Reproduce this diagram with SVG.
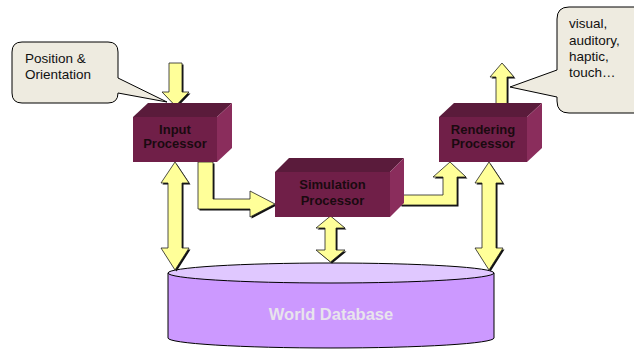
<svg xmlns="http://www.w3.org/2000/svg" width="634" height="349" viewBox="0 0 634 349">
<style>
.front{fill:#701f48}
.top{fill:#5a1b3b}
.side{fill:#8a2d5c}
.lbl{font-family:"Liberation Sans",Arial,sans-serif;font-weight:bold;font-size:13px;fill:#1a0a10;text-anchor:middle}
.call{fill:#eeebe0;stroke:#000;stroke-width:1}
.ctext{font-family:"Liberation Sans",Arial,sans-serif;font-size:13.5px;fill:#111}
.arr{fill:#ffff99;stroke:#222;stroke-width:0.8;stroke-linejoin:miter}
.sh{fill:#111}
</style>
<rect width="634" height="349" fill="#fff"/>

<g id="world-database">
  <path d="M168,273 V338 A163,10 0 0 0 494,338 V273 Z" fill="#cc99ff" stroke="#000" stroke-width="1"/>
  <ellipse cx="331" cy="273" rx="163" ry="10" fill="#e0c8ff" stroke="#000" stroke-width="1"/>
  <text x="331" y="320" font-family="'Liberation Sans',Arial,sans-serif" font-weight="bold" font-size="16.5" fill="#e8e4ec" text-anchor="middle">World Database</text>
</g>

<g id="connectors">
  <g id="arrow-in">
    <polygon class="sh" transform="translate(1.5,1.5)" points="169,63 182,63 182,92 189,92 175.5,106 162,92 169,92"/>
    <polygon class="arr" points="169,63 182,63 182,92 189,92 175.5,106 162,92 169,92"/>
  </g>
  <g id="arrow-input-db">
    <polygon class="sh" transform="translate(1.5,1.5)" points="175,162 189,183 182,183 182,248 189,248 175,270 161,248 168,248 168,183 161,183"/>
    <polygon class="arr" points="175,162 189,183 182,183 182,248 189,248 175,270 161,248 168,248 168,183 161,183"/>
  </g>
  <g id="arrow-input-sim">
    <polygon class="sh" transform="translate(1.5,1.5)" points="198,162 213,162 213,199 250,199 250,191 275,204 250,217 250,209 198,209"/>
    <polygon class="arr" points="198,162 213,162 213,199 250,199 250,191 275,204 250,217 250,209 198,209"/>
  </g>
  <g id="arrow-sim-render">
    <polygon class="sh" transform="translate(1.5,1.5)" points="400,195 443,195 443,177 433,177 450,162 466,177 457,177 457,205 400,205"/>
    <polygon class="arr" points="400,195 443,195 443,177 433,177 450,162 466,177 457,177 457,205 400,205"/>
  </g>
  <g id="arrow-render-db">
    <polygon class="sh" transform="translate(1.5,1.5)" points="489,162 503,183 496,183 496,248 503,248 489,270 475,248 482,248 482,183 475,183"/>
    <polygon class="arr" points="489,162 503,183 496,183 496,248 503,248 489,270 475,248 482,248 482,183 475,183"/>
  </g>
  <g id="arrow-sim-db">
    <polygon class="sh" transform="translate(1.5,1.5)" points="330.5,216 345,228 336,228 336,250 345,250 330.5,262 316,250 325,250 325,228 316,228"/>
    <polygon class="arr" points="330.5,216 345,228 336,228 336,250 345,250 330.5,262 316,250 325,250 325,228 316,228"/>
  </g>
  <g id="arrow-out">
    <polygon class="sh" transform="translate(1.5,1.5)" points="496,104 496,77 490,77 502,63 514,77 507,77 507,104"/>
    <polygon class="arr" points="496,104 496,77 490,77 502,63 514,77 507,77 507,104"/>
  </g>
</g>

<g id="input-processor">
  <polygon class="top" points="133,117 148,103 232,103 217,117"/>
  <polygon class="side" points="217,117 232,103 232,148 217,162"/>
  <rect class="front" x="133" y="117" width="84" height="45"/>
  <text class="lbl" x="175" y="134">Input</text>
  <text class="lbl" x="175" y="148">Processor</text>
</g>

<g id="simulation-processor">
  <polygon class="top" points="275,172 289,158 404,158 390,172"/>
  <polygon class="side" points="390,172 404,158 404,203 390,217"/>
  <rect class="front" x="275" y="172" width="115" height="45"/>
  <text class="lbl" x="332.5" y="189">Simulation</text>
  <text class="lbl" x="332.5" y="205">Processor</text>
</g>

<g id="rendering-processor">
  <polygon class="top" points="439,117 454,103 542,103 527,117"/>
  <polygon class="side" points="527,117 542,103 542,148 527,162"/>
  <rect class="front" x="439" y="117" width="88" height="45"/>
  <text class="lbl" x="483" y="134">Rendering</text>
  <text class="lbl" x="483" y="148">Processor</text>
</g>

<g id="callout-position">
  <path class="call" d="M22,42 H108 Q118,42 118,52 V78 L167,102 L118,93 Q118,103 108,103 H22 Q12,103 12,93 V52 Q12,42 22,42 Z"/>
  <text class="ctext" x="25" y="63">Position &amp;</text>
  <text class="ctext" x="25" y="79">Orientation</text>
</g>

<g id="callout-output">
  <path class="call" d="M569,7 H650 V113 H569 Q557,113 557,101 V97 L510,87 L557,70 V19 Q557,7 569,7 Z"/>
  <text class="ctext" x="569" y="28">visual,</text>
  <text class="ctext" x="569" y="45">auditory,</text>
  <text class="ctext" x="569" y="61">haptic,</text>
  <text class="ctext" x="569" y="77">touch…</text>
</g>
</svg>
